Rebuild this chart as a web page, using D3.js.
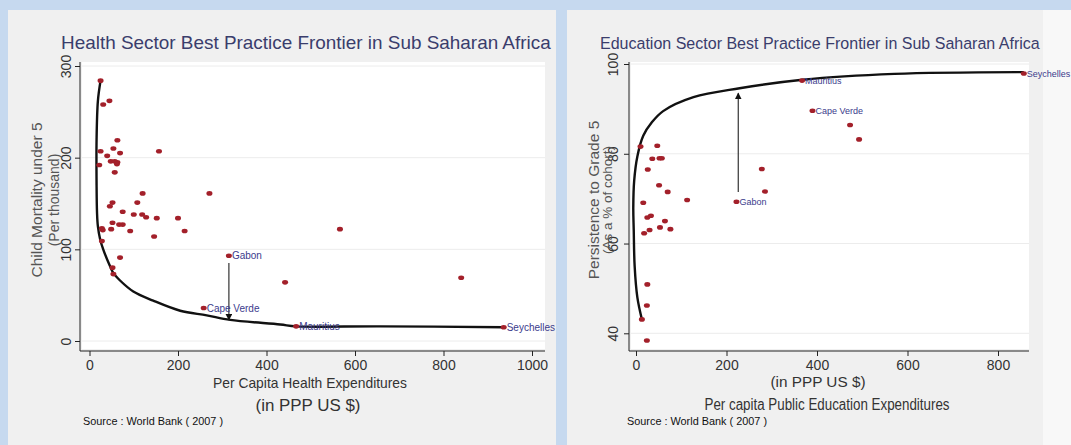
<!DOCTYPE html>
<html>
<head>
<meta charset="utf-8">
<title>Best Practice Frontier</title>
<script src="https://d3js.org/d3.v7.min.js"></script>
<style>
  body { margin: 0; background: #c6d9ef; overflow: hidden; }
  text { font-family: "Liberation Sans", Arial, sans-serif; }
</style>
</head>
<body>
<script>
// health panel: spending (PPP US$) vs under-5 mortality (per thousand)
const healthSpend = [25, 31, 45, 63, 54, 25, 69, 40, 48, 57, 63, 62, 22, 57, 157, 120, 271, 52, 46, 108,
  75, 100, 119, 128, 152, 200, 52, 67, 75, 28, 30, 49, 92, 215, 146, 28, 69, 52, 54, 566, 442, 840];
const childMortality = [284, 258, 262, 219, 210, 207, 205, 202, 196, 196, 195, 193, 192, 184, 207, 161, 161, 151, 147, 151,
  141, 138, 138, 135, 134, 134, 129, 127, 127, 123, 121, 122, 120, 120, 114, 109, 91, 80, 73, 122, 64, 69];
const healthNames = ["Gabon", "Cape Verde", "Mauritius", "Seychelles"];
const healthNamedX = [315, 258, 467, 936];
const healthNamedY = [93, 36, 16, 15];
const healthFrontierX = [25, 19, 16, 16, 17, 19, 24, 31, 46, 54, 69, 99, 144, 205, 265, 318, 431, 467, 657, 936];
const healthFrontierY = [284, 262, 220, 170, 140, 125, 111, 100, 82, 74, 66, 54, 44, 33, 28, 23, 18, 16, 16, 15];
const healthArrow = [315, 85, 23]; // x, from y, to y
const healthXTicks = [0, 200, 400, 600, 800, 1000];
const healthYTicks = [0, 100, 200, 300];

// education panel: spending (PPP US$) vs persistence to grade 5 (%)
const eduSpend = [10, 47, 36, 52, 57, 26, 278, 51, 70, 285, 16, 113, 25, 33, 64, 53, 76, 30, 18, 25,
  24, 13, 24, 473, 493];
const persistence = [81.6, 81.8, 78.9, 79.0, 79.0, 76.5, 76.6, 73.0, 71.5, 71.6, 69.1, 69.7, 65.8, 66.2, 65.0, 63.6, 63.2, 63.0, 62.3, 50.9,
  46.2, 43.1, 38.4, 86.4, 83.2];
const eduNames = ["Gabon", "Cape Verde", "Mauritius", "Seychelles"];
const eduNamedX = [222, 390, 367, 857];
const eduNamedY = [69.3, 89.6, 96.3, 97.9];
const eduFrontierX = [13, 3, -3, -5, -6, -4, 3, 16, 35, 60, 127, 229, 368, 571, 857];
const eduFrontierY = [43.1, 48, 55, 63, 68, 74, 79.4, 84, 87, 89.5, 92.6, 94.6, 96.5, 97.8, 98.2];
const eduArrow = [226, 71.5, 93.5];
const eduXTicks = [0, 200, 400, 600, 800];
const eduYTicks = [40, 60, 80, 100];

const svg = d3.select("body").append("svg")
  .attr("width", 1071)
  .attr("height", 445);

const defs = svg.append("defs");
defs.append("marker")
  .attr("id", "head")
  .attr("viewBox", "0 0 10 10")
  .attr("refX", 9).attr("refY", 5)
  .attr("markerWidth", 7).attr("markerHeight", 7)
  .attr("markerUnits", "userSpaceOnUse")
  .attr("orient", "auto")
  .append("path")
  .attr("d", "M0,0 L10,5 L0,10 z")
  .attr("fill", "#111");

// panel backgrounds
svg.append("rect").attr("x", 8).attr("y", 10).attr("width", 548).attr("height", 435).attr("fill", "#f0f0f0");
svg.append("rect").attr("x", 567).attr("y", 10).attr("width", 476).attr("height", 435).attr("fill", "#f0f0f0");
svg.append("rect").attr("x", 1043).attr("y", 10).attr("width", 28).attr("height", 435).attr("fill", "#f8f8f8");

function drawPanel(o) {
  const g = svg.append("g");
  const x = d3.scaleLinear().domain(o.xDomain).range(o.xRange);
  const y = d3.scaleLinear().domain(o.yDomain).range(o.yRange);
  const [pl, pr, pt, pb] = o.plot;

  g.append("rect")
    .attr("x", pl).attr("y", pt)
    .attr("width", pr - pl).attr("height", pb - pt)
    .attr("fill", "#fff");

  // grid lines
  g.selectAll(".grid")
    .data(o.yTicks)
    .enter()
    .append("line")
    .attr("x1", pl).attr("x2", pr)
    .attr("y1", d => y(d)).attr("y2", d => y(d))
    .attr("stroke", "#ececec");

  // axes
  const yAxis = d3.axisLeft(y).tickValues(o.yTicks).tickFormat(d3.format("d")).tickSize(5).tickSizeOuter(0);
  const ya = g.append("g").attr("transform", "translate(" + (pl - 2) + ",0)").call(yAxis);
  ya.select(".domain").remove();
  ya.selectAll("text")
    .attr("x", 0).attr("y", o.yLabelOff).attr("dy", 0)
    .attr("transform", "rotate(-90)")
    .attr("text-anchor", "middle")
    .attr("font-size", 14)
    .attr("fill", "#333");

  const xAxis = d3.axisBottom(x).tickValues(o.xTicks).tickFormat(d3.format("d")).tickSize(5).tickSizeOuter(0);
  const xa = g.append("g").attr("transform", "translate(0," + (pb + 2) + ")").call(xAxis);
  xa.select(".domain").remove();
  xa.selectAll("text").attr("y", 9).attr("dy", "0.71em").attr("font-size", 14).attr("fill", "#333");

  g.selectAll(".tick line").attr("stroke", "#222");
  g.selectAll(".tick text").attr("font-family", '"Liberation Sans", Arial, sans-serif');

  g.append("line").attr("x1", pl - 2).attr("x2", pl - 2).attr("y1", pt).attr("y2", pb + 2).attr("stroke", "#222");
  g.append("line").attr("x1", pl - 2).attr("x2", pr).attr("y1", pb + 2).attr("y2", pb + 2).attr("stroke", "#222");

  // frontier
  const line = d3.line().x(d => x(d[0])).y(d => y(d[1])).curve(d3.curveCatmullRom.alpha(0.5));
  g.append("path")
    .datum(d3.zip(o.frontierX, o.frontierY))
    .attr("d", line)
    .attr("fill", "none")
    .attr("stroke", "#111")
    .attr("stroke-width", 2.4);

  // arrow
  g.append("line")
    .attr("x1", x(o.arrow[0])).attr("x2", x(o.arrow[0]))
    .attr("y1", y(o.arrow[1])).attr("y2", y(o.arrow[2]))
    .attr("stroke", "#333").attr("stroke-width", 1.2)
    .attr("marker-end", "url(#head)");

  // points
  const pts = d3.zip(o.px, o.py).concat(d3.zip(o.namedX, o.namedY));
  g.selectAll(".pt")
    .data(pts)
    .enter()
    .append("ellipse")
    .attr("cx", d => x(d[0]))
    .attr("cy", d => y(d[1]))
    .attr("rx", 3).attr("ry", 2.3)
    .attr("fill", "#a3202a");

  g.selectAll(".lbl")
    .data(o.names)
    .enter()
    .append("text")
    .attr("x", (d, i) => x(o.namedX[i]) + 3)
    .attr("y", (d, i) => y(o.namedY[i]))
    .attr("dy", "0.35em")
    .attr("font-size", o.labelSize)
    .attr("fill", "#3b3b8c")
    .text(d => d);

  // title: size the font so the text fills the wanted width
  const title = g.append("text")
    .attr("x", o.title[1]).attr("y", 49)
    .attr("font-size", 20)
    .attr("fill", "#3a3d6c")
    .text(o.title[0]);
  const w = title.node().getComputedTextLength();
  title.attr("font-size", 20 * o.title[2] / w);

  o.yTitles.forEach(t => {
    g.append("text")
      .attr("transform", "translate(" + t[1] + ",200) rotate(-90)")
      .attr("text-anchor", "middle")
      .attr("font-size", t[2])
      .attr("fill", "#555")
      .text(t[0]);
  });

  o.xTitles.forEach(t => {
    g.append("text")
      .attr("x", t[1]).attr("y", t[2])
      .attr("text-anchor", "middle")
      .attr("font-size", t[3])
      .attr("fill", "#333")
      .attr("textLength", t[4])
      .attr("lengthAdjust", "spacingAndGlyphs")
      .text(t[0]);
  });

  g.append("text")
    .attr("x", o.source).attr("y", 425)
    .attr("font-size", 10.5)
    .attr("fill", "#111")
    .attr("textLength", 140)
    .attr("lengthAdjust", "spacingAndGlyphs")
    .text("Source : World Bank ( 2007 )");
}

drawPanel({
  xDomain: [0, 1000], xRange: [89.5, 532],
  yDomain: [0, 300], yRange: [341, 66],
  plot: [82, 545, 62, 349],
  xTicks: healthXTicks, yTicks: healthYTicks, yLabelOff: -9,
  px: healthSpend, py: childMortality,
  names: healthNames, namedX: healthNamedX, namedY: healthNamedY, labelSize: 10,
  frontierX: healthFrontierX, frontierY: healthFrontierY,
  arrow: healthArrow,
  title: ["Health Sector Best Practice Frontier in Sub Saharan Africa", 61, 490],
  yTitles: [["Child Mortality under 5", 42, 15.5], ["(Per thousand)", 59, 14]],
  xTitles: [["Per Capita Health Expenditures", 310, 388, 15, 194], ["(in PPP US $)", 308, 411, 16, 105]],
  source: 83
});

drawPanel({
  xDomain: [0, 800], xRange: [636, 998],
  yDomain: [40, 100], yRange: [333.3, 64],
  plot: [631, 1029, 62, 349],
  xTicks: eduXTicks, yTicks: eduYTicks, yLabelOff: -11,
  px: eduSpend, py: persistence,
  names: eduNames, namedX: eduNamedX, namedY: eduNamedY, labelSize: 9,
  frontierX: eduFrontierX, frontierY: eduFrontierY,
  arrow: eduArrow,
  title: ["Education Sector Best Practice Frontier in Sub Saharan Africa", 600, 440],
  yTitles: [["Persistence to Grade 5", 599, 15.5], ["(As a % of cohort)", 612, 13.5]],
  xTitles: [["(in PPP US $)", 818, 387, 14, 95], ["Per capita Public Education Expenditures", 827, 410, 16, 245]],
  source: 627
});
</script>
</body>
</html>
